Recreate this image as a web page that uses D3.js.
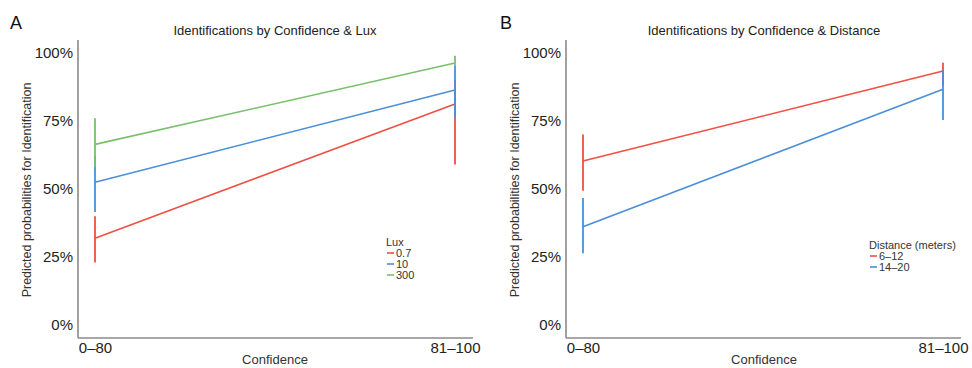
<!DOCTYPE html>
<html><head><meta charset="utf-8">
<script src="https://cdn.jsdelivr.net/npm/d3@7"></script>
<style>body{margin:0;background:#fff}svg{display:block}</style>
</head><body>
<svg id="c" width="972" height="368"></svg>
<script>
const categories = ["0–80", "81–100"];
const yTicks = [0, 0.25, 0.5, 0.75, 1];

const luxLevels = ["0.7", "10", "300"];
const luxMean = [[0.319, 0.8125], [0.525, 0.864], [0.664, 0.963]];
const luxLow  = [[0.23, 0.59], [0.415, 0.76], [0.58, 0.955]];
const luxHigh = [[0.40, 0.90], [0.62, 0.955], [0.76, 0.99]];

const distLevels = ["6–12", "14–20"];
const distMean = [[0.603, 0.934], [0.361, 0.867]];
const distLow  = [[0.494, 0.88], [0.264, 0.754]];
const distHigh = [[0.70, 0.964], [0.467, 0.937]];

const FONT = "'Liberation Sans', Arial, Helvetica, sans-serif";
const svg = d3.select("#c");

function panel(o) {
  const g = svg.append("g");
  const left = o.x0, right = o.x1, top = 40, bottom = 338;
  const x = d3.scalePoint().domain(categories).range([left + 17, right - 18]);
  const y = d3.scaleLinear().domain([0, 1]).range([325, 53]);

  g.append("text").attr("x", o.letterX).attr("y", 29).attr("font-family", FONT)
    .attr("font-size", 18).attr("fill", "#111").text(o.letter);
  g.append("text").attr("x", o.titleX).attr("y", 35).attr("text-anchor", "middle")
    .attr("font-family", FONT).attr("font-size", 13).attr("fill", "#222").text(o.title);

  const ya = g.append("g").attr("transform", `translate(${left},0)`)
    .call(d3.axisLeft(y).tickValues(yTicks).tickFormat(d3.format(".0%")).tickSize(0).tickPadding(5));
  ya.select(".domain").remove();
  ya.selectAll("text").attr("font-family", FONT).attr("font-size", 15).attr("fill", "#222");
  g.append("line").attr("x1", left).attr("x2", left).attr("y1", top).attr("y2", bottom)
    .attr("stroke", "#8a8a8a").attr("stroke-width", 1.6);

  const xa = g.append("g").attr("transform", `translate(0,${bottom})`)
    .call(d3.axisBottom(x).tickSize(0).tickPadding(4));
  xa.select(".domain").remove();
  xa.selectAll("text").attr("font-family", FONT).attr("font-size", 15).attr("fill", "#222");
  g.append("line").attr("x1", left).attr("x2", right).attr("y1", bottom).attr("y2", bottom)
    .attr("stroke", "#8a8a8a").attr("stroke-width", 1.6);

  g.append("text").attr("x", o.titleX).attr("y", 364).attr("text-anchor", "middle")
    .attr("font-family", FONT).attr("font-size", 13).attr("fill", "#333").text("Confidence");
  g.append("text").attr("transform", `translate(${o.ylabX},190) rotate(-90)`).attr("text-anchor", "middle")
    .attr("font-family", FONT).attr("font-size", 12.5).attr("fill", "#333")
    .text("Predicted probabilities for Identification");

  o.levels.forEach((lv, i) => {
    const c = o.colors[i];
    const pts = categories.map((cat, j) => ({cat, m: o.mean[i][j], lo: o.low[i][j], hi: o.high[i][j]}));
    g.append("path").datum(pts)
      .attr("d", d3.line().x(d => x(d.cat)).y(d => y(d.m)))
      .attr("fill", "none").attr("stroke", c).attr("stroke-width", 1.6);
    g.selectAll(null).data(pts).enter().append("line")
      .attr("x1", d => x(d.cat)).attr("x2", d => x(d.cat))
      .attr("y1", d => y(d.lo)).attr("y2", d => y(d.hi))
      .attr("stroke", c).attr("stroke-width", 1.8);
  });

  const lg = g.append("g").attr("transform", `translate(${o.legX},${o.legY})`);
  lg.append("text").attr("x", 0).attr("y", 0).attr("font-family", FONT).attr("font-size", 11)
    .attr("fill", "#333").text(o.legTitle);
  o.levels.forEach((lv, i) => {
    const yy = 11 + i * 11;
    lg.append("line").attr("x1", 1).attr("x2", 8).attr("y1", yy - 4).attr("y2", yy - 4)
      .attr("stroke", o.colors[i]).attr("stroke-width", 1.6);
    lg.append("text").attr("x", 10).attr("y", yy).attr("font-family", FONT).attr("font-size", 11)
      .attr("fill", "#333").text(lv);
  });
}

panel({x0: 78, x1: 473, letter: "A", letterX: 10, titleX: 275, ylabX: 31,
  title: "Identifications by Confidence & Lux",
  levels: luxLevels, mean: luxMean, low: luxLow, high: luxHigh,
  colors: ["#ee4f43", "#4a8fd8", "#78c06c"], legTitle: "Lux", legX: 386, legY: 246});

panel({x0: 566, x1: 961, letter: "B", letterX: 500, titleX: 764, ylabX: 519,
  title: "Identifications by Confidence & Distance",
  levels: distLevels, mean: distMean, low: distLow, high: distHigh,
  colors: ["#ee4f43", "#4a8fd8"], legTitle: "Distance (meters)", legX: 869, legY: 249});
</script>
</body></html>
